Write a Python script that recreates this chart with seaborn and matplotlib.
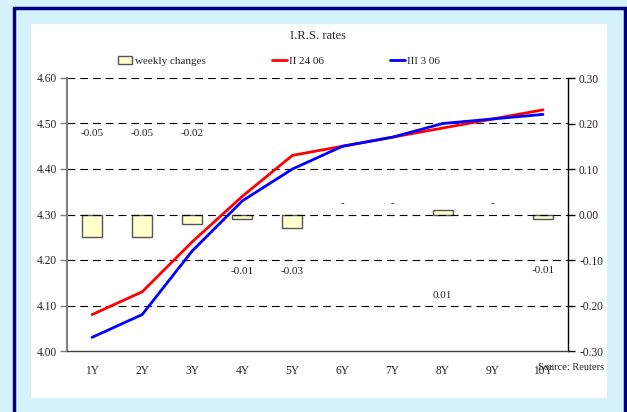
import numpy as np
import pandas as pd
import matplotlib.pyplot as plt
import seaborn as sns
from matplotlib.patches import Rectangle
from matplotlib.ticker import FormatStrFormatter, FixedLocator

# chart data
tenors = ['1Y', '2Y', '3Y', '4Y', '5Y', '6Y', '7Y', '8Y', '9Y', '10Y']
rates_feb = [4.08, 4.13, 4.24, 4.34, 4.43, 4.45, 4.47, 4.49, 4.51, 4.53]
rates_mar = [4.03, 4.08, 4.22, 4.33, 4.40, 4.45, 4.47, 4.50, 4.51, 4.52]
weekly_changes = [-0.05, -0.05, -0.02, -0.01, -0.03, 0.00, 0.00, 0.01, 0.00, -0.01]
change_labels = ['-0.05', '-0.05', '-0.02', '-0.01', '-0.03', '-', '-', '0.01', '-', '-0.01']
# where Excel put the data labels (right axis units)
label_y = [0.177, 0.177, 0.177, -0.126, -0.126, 0.025, 0.025, -0.177, 0.025, -0.122]
left_ticks = [4.00, 4.10, 4.20, 4.30, 4.40, 4.50, 4.60]
right_ticks = [-0.30, -0.20, -0.10, 0.00, 0.10, 0.20, 0.30]

df = pd.DataFrame({'tenor': tenors, 'pos': np.arange(len(tenors)),
                   'II 24 06': rates_feb, 'III 3 06': rates_mar,
                   'change': weekly_changes})

sns.set_style('white')
plt.rcParams['font.family'] = ['Liberation Serif', 'DejaVu Serif']
plt.rcParams['font.size'] = 8

W, H = 627, 412
fig = plt.figure(figsize=(W / 100, H / 100), dpi=100)
fig.patch.set_facecolor('#D6F3FC')

# navy frame and white panel
fig.add_artist(Rectangle((13.5 / W, -0.05), (624.5 - 13.5) / W, 1.05 - 7.5 / H,
                         transform=fig.transFigure, facecolor='none',
                         edgecolor='#000080', lw=2.5, zorder=0))
fig.add_artist(Rectangle((31 / W, (H - 398) / H), (607 - 31) / W, (398 - 24) / H,
                         transform=fig.transFigure, facecolor='white',
                         edgecolor='none', zorder=0))

ax = fig.add_axes([67 / W, (H - 351) / H, (568 - 67) / W, (351 - 78) / H])
ax2 = ax.twinx()

sns.barplot(data=df, x='pos', y='change', ax=ax2, color='#FFFFCC', width=0.4,
            edgecolor='#555555', linewidth=1, saturation=1, native_scale=True,
            label='weekly changes')
# zero-height bars are not visible in the original
for p in ax2.patches:
    if abs(p.get_height()) < 1e-9:
        p.set_linewidth(0)
sns.lineplot(data=df, x='pos', y='II 24 06', ax=ax, color='#FF0000', lw=2,
             label='II 24 06')
sns.lineplot(data=df, x='pos', y='III 3 06', ax=ax, color='#0000FF', lw=2,
             label='III 3 06')

for i, (txt, yv) in enumerate(zip(change_labels, label_y)):
    ax2.text(df['pos'][i], yv, txt, ha='center', va='center', fontsize=8)

# lines on top of bars
ax.set_zorder(ax2.get_zorder() + 1)
ax.patch.set_visible(False)
ax2.patch.set_visible(False)

ax.set_xlim(-0.5, len(tenors) - 0.5)
ax.set_ylim(4.0, 4.6)
ax2.set_ylim(-0.3, 0.3)
ax.set_yticks(left_ticks)
ax2.set_yticks(right_ticks)
ax.yaxis.set_major_formatter(FormatStrFormatter('%.2f'))
ax2.yaxis.set_major_formatter(FormatStrFormatter('%.2f'))

ax.set_xticks(df['pos'])
ax.set_xticklabels(tenors)
ax.xaxis.set_minor_locator(FixedLocator(np.arange(-0.5, len(tenors), 1.0)))
ax.tick_params(axis='x', which='major', length=0, pad=10, labelsize=8.3)
ax.tick_params(axis='x', which='minor', length=4, width=1, color='#404040', direction='out')
ax.tick_params(axis='y', length=5, width=1, color='#808080', direction='out', pad=2,
               labelsize=8.3)
ax2.tick_params(axis='y', length=5, width=1, color='black', direction='out', pad=3,
                labelsize=8.3)
ax.set_xlabel('')
ax.set_ylabel('')
ax2.set_ylabel('')

for v in left_ticks[1:]:
    ax.axhline(v, color='black', lw=0.8, ls=(0, (7, 4.5)), zorder=0.5)

for s in ['top', 'right']:
    ax.spines[s].set_visible(False)
ax.spines['left'].set_color('#808080')
ax.spines['left'].set_linewidth(1.5)
ax.spines['bottom'].set_color('#404040')
ax.spines['bottom'].set_linewidth(1)
for s in ['top', 'left', 'bottom']:
    ax2.spines[s].set_visible(False)
ax2.spines['right'].set_color('black')
ax2.spines['right'].set_linewidth(1)

h1, l1 = ax2.get_legend_handles_labels()
h2, l2 = ax.get_legend_handles_labels()
if ax2.get_legend():
    ax2.get_legend().remove()
if ax.get_legend():
    ax.get_legend().remove()
fig.legend(h1 + h2, l1 + l2, loc='center', bbox_to_anchor=(279 / W, 1 - 61 / H),
           ncol=3, frameon=False, columnspacing=6, handlelength=1.3,
           handletextpad=0.2, fontsize=8)

fig.text(318 / W, 1 - 36 / H, 'I.R.S. rates', ha='center', va='center', fontsize=9)
fig.text(538 / W, 1 - 368 / H, 'Source: Reuters', ha='left', va='center', fontsize=7.5)

fig.savefig('out.png', dpi=100, facecolor=fig.get_facecolor())
